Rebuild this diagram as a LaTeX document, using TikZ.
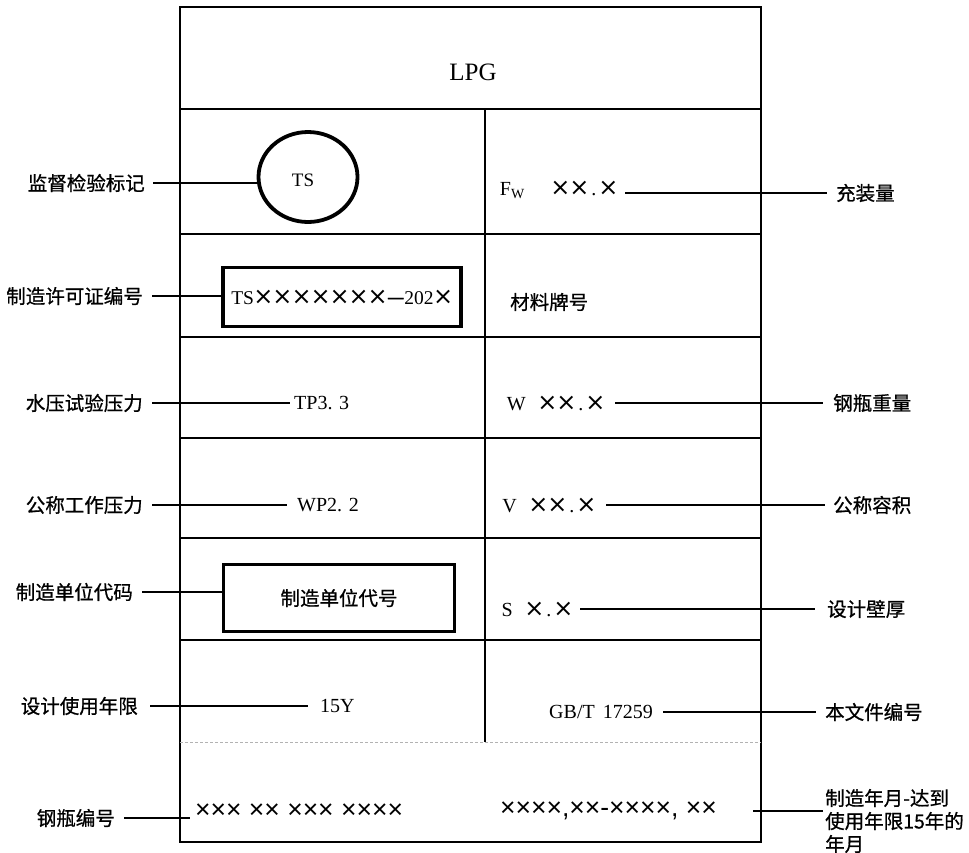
\documentclass[tikz,border=0pt]{standalone}
\usepackage{fontspec}
\setmainfont{Liberation Serif}
\newfontfamily\cjk[FakeBold=0.8]{Noto Sans CJK SC}
\newfontfamily\xsans{Liberation Sans}
\newfontfamily\dejavu{DejaVu Sans}
\usetikzlibrary{shapes.geometric}
\newcommand\X{\makebox[19pt]{\dejavu\fontsize{24}{24}\selectfont ×}}
\newcommand\Pd{\makebox[10pt]{.}}
\begin{document}
\begin{tikzpicture}[x=1pt,y=-1pt,
  frm/.style={line width=1.6pt},
  boldbox/.style={draw, line width=3.8pt},
  lead/.style={line width=1.3pt},
  lab/.style={font=\cjk\fontsize{19.5}{23}\selectfont, inner sep=0pt},
  val/.style={font=\fontsize{20}{24}\selectfont, inner sep=0pt},
  ser/.style={font=\xsans\fontsize{26.5}{28}\selectfont, inner sep=0pt}]
\useasboundingbox (0,0) rectangle (969,852);
\fill[white] (0,0) rectangle (969,852);
% table frame
\draw[frm] (180,7) rectangle (761,842);
\foreach \yy in {109,234,337,438,538,640} \draw[frm] (180,\yy) -- (761,\yy);
\draw[frm] (485,109) -- (485,742);
\draw[gray!60, line width=1pt, dash pattern=on 3pt off 2pt] (180,742) -- (761,742);
% title
\node[font=\fontsize{25}{28}\selectfont] (lpg) at (473,72) {LPG};
% left column items
\node[ellipse, boldbox, minimum width=99, minimum height=90, inner sep=0pt] (ts) at (308,177) {};
\node[font=\fontsize{19}{20}\selectfont, inner sep=0pt] (tstext) at (303,180) {TS};
\node[boldbox, minimum width=238, minimum height=59, inner sep=0pt, font=\fontsize{19.5}{22}\selectfont] (pmt) at (342,297) {TS\X\X\X\X\X\X\X{\cjk —}202\X};
\node[boldbox, minimum width=231, minimum height=67, inner sep=0pt, font=\cjk\fontsize{19.5}{22}\selectfont] (unit) at (339,598) {制造单位代号};
% left labels
\node[lab, anchor=east] (l1) at (145,183) {监督检验标记};
\draw[lead, shorten <=8pt] (l1.east) -- (l1.east -| ts.west);
\node[lab, anchor=east] (l2) at (143,296) {制造许可证编号};
\draw[lead, shorten <=9pt] (l2.east) -- (l2.east -| pmt.west);
\node[lab, anchor=east] (l3) at (143,403) {水压试验压力};
\node[val, anchor=west] (tp) at (294,403) {TP3. 3};
\draw[lead, shorten <=9pt, shorten >=4pt] (l3.east) -- (l3.east -| tp.west);
\node[lab, anchor=east] (l4) at (143,505) {公称工作压力};
\node[val, anchor=west] (wp) at (297,505) {WP2. 2};
\draw[lead, shorten <=9pt, shorten >=10pt] (l4.east) -- (l4.east -| wp.west);
\node[lab, anchor=east] (l5) at (133,592) {制造单位代码};
\draw[lead, shorten <=9pt] (l5.east) -- (l5.east -| unit.west);
\node[lab, anchor=east] (l6) at (138,706) {设计使用年限};
\node[val, anchor=west] (yr) at (320,706) {15Y};
\draw[lead, shorten <=12pt, shorten >=12pt] (l6.east) -- (l6.east -| yr.west);
\node[lab, anchor=east] (l7) at (115,818) {钢瓶编号};
\node[ser, anchor=west] (sn) at (195,811) {××× ×× ××× ××××};
\draw[lead, shorten <=9pt, shorten >=5pt] (l7.east) -- (l7.east -| sn.west);
% right column items
\node[val, anchor=east] (fw) at (618,190) {F\textsubscript{W}\hspace{26pt}\X\X\Pd\X};
\node[lab, anchor=west] (r1) at (836,193) {充装量};
\draw[lead, shorten <=7pt, shorten >=9pt] (fw.east |- r1.west) -- (r1.west);
\node[lab, anchor=west] (mat) at (510,302) {材料牌号};
\node[val, anchor=east] (w) at (605,403) {W\hspace{12pt}\X\X\Pd\X};
\node[lab, anchor=west] (r2) at (833,403) {钢瓶重量};
\draw[lead, shorten <=10pt, shorten >=10pt] (w.east |- r2.west) -- (r2.west);
\node[val, anchor=east] (v) at (596,505) {V\hspace{12pt}\X\X\Pd\X};
\node[lab, anchor=west] (r3) at (833,505) {公称容积};
\draw[lead, shorten <=10pt, shorten >=8pt] (v.east |- r3.west) -- (r3.west);
\node[val, anchor=east] (s) at (573,609) {S\hspace{12pt}\X\Pd\X};
\node[lab, anchor=west] (r4) at (827,609) {设计壁厚};
\draw[lead, shorten <=7pt, shorten >=12pt] (s.east |- r4.west) -- (r4.west);
\node[val, anchor=east] (gb) at (653,712) {GB/T\hspace{8pt}17259};
\node[lab, anchor=west] (r5) at (825,712) {本文件编号};
\draw[lead, shorten <=10pt, shorten >=9pt] (gb.east |- r5.west) -- (r5.west);
\node[ser, anchor=east] (dt) at (717,811) {××××,××-××××, ××};
\node[lab, anchor=west, align=left] (r6) at (825,821) {制造年月-达到\\使用年限15年的\\年月};
\draw[lead, shorten <=36pt, shorten >=2pt] (dt.east) -- (dt.east -| r6.west);
\end{tikzpicture}
\end{document}
